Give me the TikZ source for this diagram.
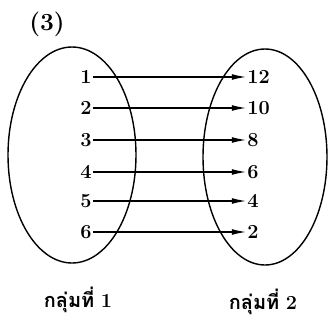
\documentclass[tikz,border=0pt]{standalone}
\usepackage{fontspec}
\newfontfamily\thaifont[Script=Thai]{Loma}
\usetikzlibrary{arrows.meta}
\tikzset{
    num/.style={font=\fontsize{17}{19}\selectfont\bfseries, inner sep=1pt},
    maparrow/.style={-{Latex[length=12pt,width=5pt]}, line width=1pt},
    setname/.style={font=\fontsize{17}{20}\selectfont\thaifont\bfseries}
}
\begin{document}
\begin{tikzpicture}[x=0.03cm, y=-0.03cm]
    \useasboundingbox (0,0) rectangle (328,324);

    % Label
    \node[font=\fontsize{21}{24}\selectfont\bfseries] (lbl) at (47,24) {(3)};

    % Sets
    \draw[line width=1.2pt] (72,155) ellipse (64 and 108);
    \draw[line width=1.2pt] (265,157) ellipse (62 and 108);

    % Domain
    \node[num, anchor=east] (a1) at (93,77) {1};
    \node[num, anchor=east] (a2) at (93,108) {2};
    \node[num, anchor=east] (a3) at (93,140) {3};
    \node[num, anchor=east] (a4) at (93,172) {4};
    \node[num, anchor=east] (a5) at (93,201) {5};
    \node[num, anchor=east] (a6) at (93,232) {6};

    % Range
    \node[num, anchor=west] (b12) at (246,77) {12};
    \node[num, anchor=west] (b10) at (246,108) {10};
    \node[num, anchor=west] (b8) at (246,140) {8};
    \node[num, anchor=west] (b6) at (246,172) {6};
    \node[num, anchor=west] (b4) at (246,201) {4};
    \node[num, anchor=west] (b2) at (246,232) {2};

    % Mapping
    \draw[maparrow] (a1) -- (b12);
    \draw[maparrow] (a2) -- (b10);
    \draw[maparrow] (a3) -- (b8);
    \draw[maparrow] (a4) -- (b6);
    \draw[maparrow] (a5) -- (b4);
    \draw[maparrow] (a6) -- (b2);

    % Set names
    \node[setname] (n1) at (78,300) {กลุ่มที่ \rmfamily 1};
    \node[setname] (n2) at (263,302) {กลุ่มที่ \rmfamily 2};
\end{tikzpicture}
\end{document}
